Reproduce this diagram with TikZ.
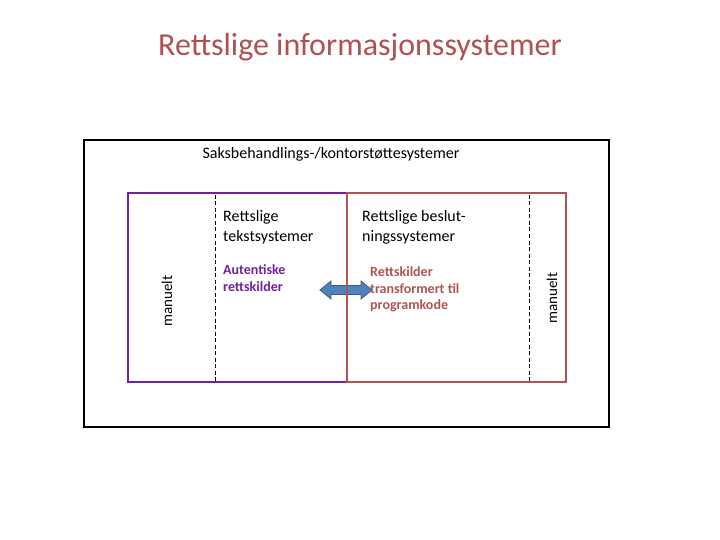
\documentclass[tikz,border=0pt]{standalone}
\usepackage{fontspec}
\setmainfont{Carlito}
\definecolor{brownred}{RGB}{176,84,82}
\definecolor{titlered}{RGB}{176,80,80}
\definecolor{purp}{RGB}{112,32,160}
\definecolor{arrowblue}{RGB}{79,129,189}
\definecolor{arrowedge}{RGB}{56,93,138}
\tikzset{
  txt/.style={inner sep=0pt, anchor=base west, font=\fontsize{16}{19}\selectfont},
  sub/.style={inner sep=0pt, anchor=base west, font=\fontsize{14}{17}\selectfont\bfseries},
  vert/.style={inner sep=0pt, rotate=90, font=\fontsize{15}{18}\selectfont},
  dashline/.style={dashed, line width=0.9pt, dash pattern=on 4pt off 2.5pt},
}
\begin{document}
\begin{tikzpicture}[x=1pt,y=-1pt]
\useasboundingbox (0,0) rectangle (720,540);
% title
\node[inner sep=0pt, anchor=base, text=titlered, font=\fontsize{32}{38}\selectfont] (title) at (360,56) {Rettslige informasjonssystemer};
% outer box
\draw[line width=2.6pt] (84,140) rectangle (609,427);
\node[txt, anchor=base] (saks) at (331,159) {Saksbehandlings-/kontorstøttesystemer};
% arrow
\draw[arrowedge, fill=arrowblue, line width=0.8pt]
  (320,290) -- (331,281) -- (331,285.5) -- (361,285.5) -- (361,281) -- (372,290)
  -- (361,299) -- (361,294.5) -- (331,294.5) -- (331,299) -- cycle;
% purple box
\draw[purp, line width=2.6pt] (347,193) -- (128,193) -- (128,382) -- (347,382);
% brown box
\draw[brownred, line width=2.4pt] (347,193) rectangle (566,382);
% dashed
\draw[dashline] (215,195) -- (215,381);
\draw[dashline] (529,195) -- (529,381);
% texts left
\node[txt] (l1) at (223,222) {Rettslige};
\node[txt] (l2) at (223,241) {tekstsystemer};
\node[sub, text=purp] (a1) at (223,274) {Autentiske};
\node[sub, text=purp] (a2) at (223,291) {rettskilder};
% texts right
\node[txt] (r1) at (362,222) {Rettslige beslut-};
\node[txt] (r2) at (362,241) {ningssystemer};
\node[sub, text=brownred] (b1) at (370,276) {Rettskilder};
\node[sub, text=brownred] (b2) at (370,293) {transformert til};
\node[sub, text=brownred] (b3) at (370,309) {programkode};
% manuelt
\node[vert] (m1) at (167,301) {manuelt};
\node[vert] (m2) at (552,298) {manuelt};
\end{tikzpicture}
\end{document}
